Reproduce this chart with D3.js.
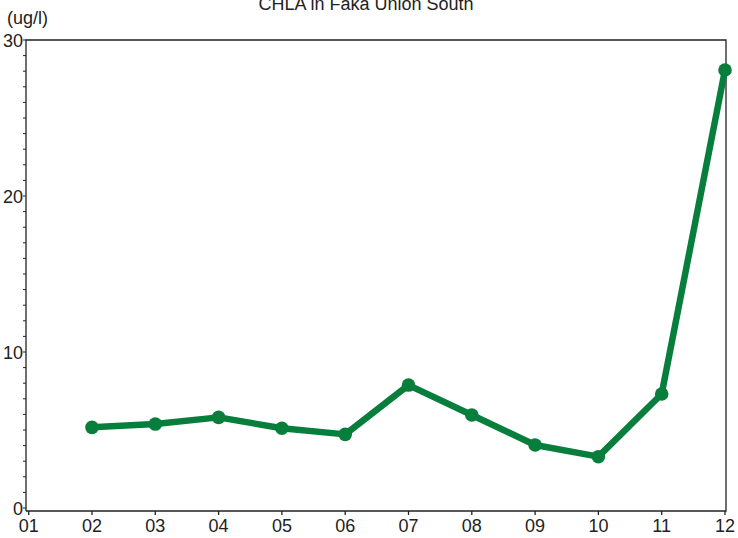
<!DOCTYPE html>
<html><head><meta charset="utf-8">
<script src="https://cdn.jsdelivr.net/npm/d3@7"></script>
<style>
html,body{margin:0;padding:0;background:#fff;}
svg{display:block;font-family:"Liberation Sans",Arial,sans-serif;}
</style></head>
<body><svg id="c" width="738" height="538"></svg>
<script>
const title = "CHLA in Faka Union South";
const unitLabel = "(ug/l)";
const months = ["01","02","03","04","05","06","07","08","09","10","11","12"];
const pointMonths = [2,3,4,5,6,7,8,9,10,11,12];
const chla = [5.17,5.38,5.81,5.11,4.72,7.88,5.96,4.04,3.29,7.31,28.08];
const yMajorTicks = [0,10,20,30];

(function(){
const svg = d3.select("#c");
const x = d3.scaleLinear().domain([1,12]).range([28.7,725]);
const y = d3.scaleLinear().domain([0,30]).range([508,40]);
const pL = 26, pR = 726, pT = 40, pB = 511;
const axisColor = "#222";

// frame
svg.append("path")
  .attr("d", `M${pL},${pB}V${pT}H${pR}V${pB}H${pL}`)
  .attr("fill","none").attr("stroke",axisColor).attr("stroke-width",1.3);

// y minor ticks
const yMinor = d3.range(0,31,1);
svg.append("g").selectAll("line").data(yMinor).join("line")
  .attr("x1",pL-3).attr("x2",pL)
  .attr("y1",d=>y(d)).attr("y2",d=>y(d))
  .attr("stroke",axisColor).attr("stroke-width",1);

// y labels
svg.append("g").selectAll("text").data(yMajorTicks).join("text")
  .attr("x",23).attr("y",d=>y(d)+6.5)
  .attr("text-anchor","end").attr("font-size",18).attr("fill","#222")
  .text(d=>d);

// x ticks
const xg = svg.append("g");
xg.selectAll("line").data(months).join("line")
  .attr("x1",(d,i)=>x(i+1)).attr("x2",(d,i)=>x(i+1))
  .attr("y1",pB).attr("y2",pB+4)
  .attr("stroke",axisColor).attr("stroke-width",1.3);
xg.selectAll("text").data(months).join("text")
  .attr("x",(d,i)=>x(i+1)).attr("y",532)
  .attr("text-anchor","middle").attr("font-size",18).attr("fill","#222")
  .text(d=>d);

// title & unit
svg.append("text").attr("x",366).attr("y",9.5).attr("text-anchor","middle")
  .attr("font-size",18).attr("fill","#222").text(title);
svg.append("text").attr("x",7).attr("y",24).attr("font-size",18)
  .attr("fill","#222").text(unitLabel);

// line
const data = pointMonths.map((m,i)=>({m, v: chla[i]}));
const green = "#077e3c";
svg.append("path").datum(data)
  .attr("d", d3.line().x(d=>x(d.m)).y(d=>y(d.v)))
  .attr("fill","none").attr("stroke",green).attr("stroke-width",6.5)
  .attr("stroke-linejoin","round");
svg.append("g").selectAll("circle").data(data).join("circle")
  .attr("cx",d=>x(d.m)).attr("cy",d=>y(d.v)).attr("r",6.8).attr("fill",green);
})();
</script></body></html>
